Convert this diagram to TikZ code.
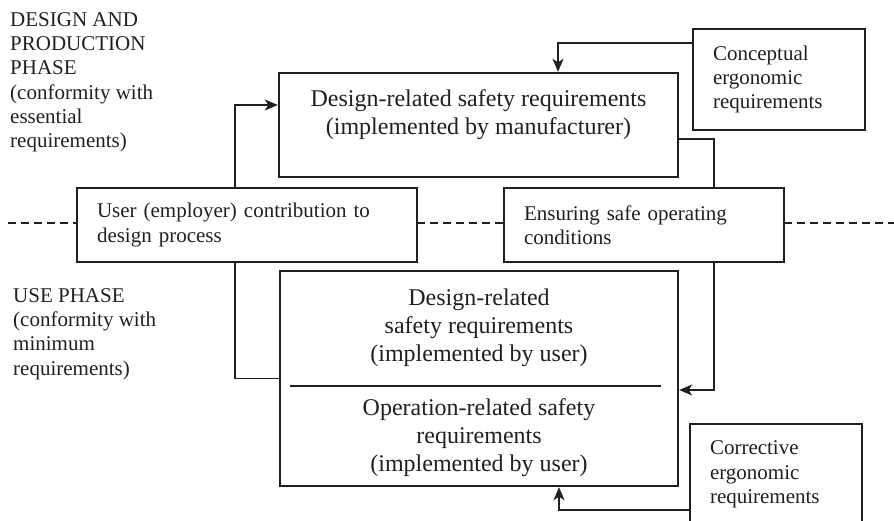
\documentclass[tikz,border=0pt]{standalone}
\usepackage{fontspec}
\setmainfont{Liberation Serif}
\usetikzlibrary{arrows.meta,calc}
\definecolor{ink}{RGB}{35,31,32}
\pgfdeclarelayer{bg}
\pgfsetlayers{bg,main}
\tikzset{
  thinbox/.style={draw=ink, line width=1.2pt, fill=white, inner sep=0pt},
  thickbox/.style={draw=ink, line width=2.4pt, fill=white, inner sep=0pt},
  smalltxt/.style={font=\fontsize{21}{24.3}\selectfont, text=ink},
  bigtxt/.style={font=\fontsize{24}{28}\selectfont, text=ink, align=center, inner sep=0pt},
  conn/.style={draw=ink, line width=1.5pt},
  arr/.style={conn, -{Stealth[length=13pt,width=11pt,inset=3.5pt]}},
  phaseline/.style={draw=ink, line width=1.3pt, dash pattern=on 8pt off 5pt},
  divline/.style={draw=ink, line width=1.6pt},
}
\begin{document}
\begin{tikzpicture}[x=1pt,y=-1pt]
\useasboundingbox (0,0) rectangle (894,521);

% phase labels
\node[smalltxt, anchor=north west, align=left, inner sep=0pt] (lab1) at (10,12)
  {DESIGN AND\\PRODUCTION\\PHASE\\(conformity with\\essential\\requirements)};
\node[smalltxt, anchor=north west, align=left, inner sep=0pt] (lab2) at (13,288)
  {USE PHASE\\(conformity with\\minimum\\requirements)};

% boxes
\node[thickbox, minimum width=399pt, minimum height=104pt] (mfr) at (478.5,125) {};
\node[bigtxt] (mfrtxt) at (478.5,114.4)
  {Design-related safety requirements\\(implemented by manufacturer)};

\node[thinbox, smalltxt, inner xsep=20pt, text width=132pt, align=left,
      minimum width=172pt, minimum height=101pt] (conc) at (779,79.5)
  {Conceptual\\ergonomic\\requirements};

\node[thinbox, smalltxt, inner xsep=20pt, text width=300pt, align=left,
      minimum width=340pt, minimum height=74pt] (user) at (247,225)
  {User (employer) contribution to\\design process};

\node[thinbox, smalltxt, inner xsep=20pt, text width=240pt, align=left,
      minimum width=280pt, minimum height=74pt] (ens) at (644,225)
  {Ensuring safe operating\\conditions};

\node[thickbox, minimum width=398pt, minimum height=215pt] (usr) at (479,378.5) {};
\draw[divline] (290,386) -- (661,386);
\node[bigtxt] (usrtxt1) at (479,327.9)
  {Design-related\\safety requirements\\(implemented by user)};
\node[bigtxt] (usrtxt2) at (479,437.3)
  {Operation-related safety\\requirements\\(implemented by user)};

\node[thinbox, smalltxt, inner xsep=20pt, text width=132pt, align=left,
      minimum width=172pt, minimum height=101pt] (corr) at (776,474.5)
  {Corrective\\ergonomic\\requirements};

% connectors
\coordinate (tx) at (558,43);
\coordinate (lx) at (235,105);
\coordinate (rx) at (714,390);
\coordinate (bx) at (559,510);
\begin{pgfonlayer}{bg}
  \draw[phaseline] (8,223) -- (77,223);
  \draw[phaseline] (417,223) -- (504,223);
  \draw[phaseline] (784,223) -- (894,223);
  \draw[arr] (conc.west |- tx) -- (tx) -- (tx |- mfr.north);
  \draw[arr] (usr.west) -| (lx) -- (mfr.west |- lx);
  \draw[arr] ([yshift=-14pt]mfr.east) -| (rx) -- (usr.east |- rx);
  \draw[arr] (corr.west |- bx) -- (bx) -- (bx |- usr.south);
\end{pgfonlayer}
\end{tikzpicture}
\end{document}
